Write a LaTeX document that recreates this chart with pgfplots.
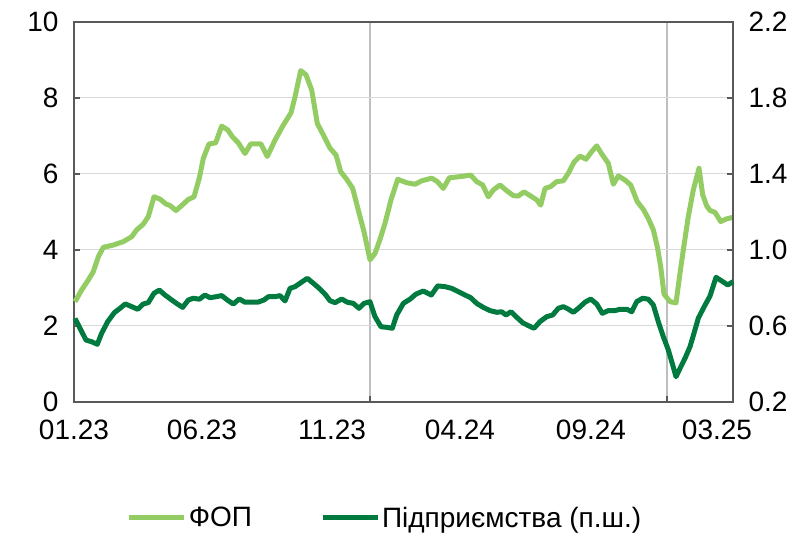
\documentclass[border=0pt]{standalone}
\usepackage{pgfplots}
\pgfplotsset{compat=1.18}
\usepackage{fontspec}
\setmainfont{Liberation Sans}
\definecolor{lightg}{RGB}{146,204,98}
\definecolor{darkg}{RGB}{0,122,62}
\definecolor{axisgray}{RGB}{89,89,89}
\definecolor{gridgray}{RGB}{217,217,217}
\definecolor{vgray}{RGB}{191,191,191}
\newcommand{\bigfont}{\fontsize{28}{32}\selectfont}
\begin{document}
\begin{tikzpicture}
\begin{axis}[
  at={(0pt,0pt)}, anchor=south west,
  scale only axis, width=659pt, height=380pt,
  xmin=0, xmax=659, ymin=0, ymax=10,
  axis line style={draw=axisgray, line width=1.6pt},
  /pgf/number format/assume math mode=true,
  tick label style={font=\bigfont, black},
  tick align=inside,
  major tick length=6pt,
  ytick={0,2,4,6,8,10}, ytick pos=left,
  ymajorgrids,
  major y grid style={draw=gridgray, line width=1pt},
  y tick style={draw=axisgray, line width=1.6pt},
  xtick={296,593}, xticklabels={}, xtick pos=bottom,
  xmajorgrids,
  major x grid style={draw=vgray, line width=1.2pt},
  x tick style={draw=axisgray, line width=1.6pt},
  extra x ticks={0,128,258,386,517,643},
  extra x tick labels={01.23,06.23,11.23,04.24,09.24,03.25},
  extra x tick style={major tick length=0pt, xmajorgrids=false, x tick style={draw=none}},
  xticklabel style={yshift=-14pt},
  yticklabel style={xshift=-12pt},
  legend style={at={(0.472,-0.305)}, anchor=center, draw=none, fill=none,
    font=\bigfont, legend columns=2,
    /tikz/every even column/.append style={column sep=66pt}},
  legend image code/.code={\draw[#1] (0pt,0pt) -- (55pt,0pt);},
  clip=false,
]
\addplot[lightg, line width=5pt, line join=round] table {
x y
1 2.64
7.7 2.95
14.3 3.21
19.3 3.43
24.3 3.82
29.3 4.07
39.3 4.13
49.3 4.22
57.7 4.35
62.7 4.53
69.3 4.68
74.3 4.88
80 5.40
86 5.34
92 5.21
96 5.17
102 5.04
107.7 5.17
114.3 5.33
120 5.40
125.3 5.89
129.3 6.41
135 6.79
141.7 6.82
147.7 7.26
153.7 7.16
158.7 6.97
164.3 6.82
171 6.54
176.7 6.79
187 6.79
193.3 6.46
201 6.89
208.7 7.26
217 7.61
221 8.03
226.7 8.72
232 8.61
237.7 8.21
243.3 7.33
249.3 7.03
256 6.68
262 6.50
266.7 6.06
272.7 5.86
278.7 5.62
284.3 5.05
290 4.48
296 3.74
301 3.91
306 4.28
311 4.70
317 5.32
323.7 5.86
332.7 5.77
341 5.73
347.7 5.82
357.7 5.89
363.3 5.80
369.3 5.62
375.3 5.90
386 5.93
396.7 5.97
402.7 5.80
408.7 5.71
414.3 5.40
419.3 5.58
426 5.71
432.7 5.56
439.3 5.43
444.3 5.42
450 5.53
456.7 5.42
462.7 5.32
466.7 5.18
471 5.62
476.7 5.67
482.7 5.80
489.3 5.82
494.3 6.02
500 6.31
506 6.47
512 6.39
517.7 6.59
522.7 6.74
527.7 6.53
534.3 6.28
539.3 5.73
544.3 5.95
551 5.84
556.7 5.71
563.3 5.27
569.3 5.07
574.3 4.83
579.3 4.53
583.3 4.09
586.7 3.56
590 2.84
596 2.64
602 2.61
606 3.39
609.3 4.00
614.3 4.88
619.3 5.58
625 6.15
628.7 5.45
632.7 5.16
636 5.04
641 4.99
646.7 4.75
652.7 4.82
659 4.86
};
\addlegendentry{ФОП}
\addlegendimage{darkg, line width=5pt}
\addlegendentry{Підприємства (п.ш.)}
\end{axis}
\begin{axis}[
  at={(0pt,0pt)}, anchor=south west,
  scale only axis, width=659pt, height=380pt,
  xmin=0, xmax=659, ymin=0.2, ymax=2.2,
  axis x line=none,
  axis y line*=right,
  axis line style={draw=axisgray, line width=1.6pt},
  /pgf/number format/assume math mode=true,
  /pgf/number format/fixed,
  /pgf/number format/fixed zerofill,
  /pgf/number format/precision=1,
  tick label style={font=\bigfont, black},
  tick align=inside,
  major tick length=6pt,
  ytick={0.2,0.6,1.0,1.4,1.8,2.2},
  y tick style={draw=axisgray, line width=1.6pt},
  yticklabel style={xshift=12pt},
  clip=false,
]
\addplot[darkg, line width=5pt, line join=round] table {
x y
1 0.640
6 0.588
12 0.526
17.7 0.517
23.3 0.504
27.7 0.562
33.7 0.623
40.3 0.670
46 0.693
51.3 0.716
57.7 0.702
63.7 0.688
69.3 0.716
74.3 0.723
80 0.772
85.3 0.789
91 0.763
97.7 0.737
103.3 0.716
108.7 0.698
114.3 0.737
119.3 0.746
125.3 0.741
131 0.763
136 0.749
142 0.754
147.7 0.760
153.3 0.737
159.3 0.716
165.3 0.742
171 0.725
177.7 0.725
184.3 0.726
190 0.737
194.3 0.754
201 0.754
206 0.760
211 0.732
216 0.798
221 0.807
226 0.825
233.3 0.851
239.3 0.825
245.3 0.798
251 0.768
256 0.733
261 0.723
267.7 0.742
273.3 0.725
279.3 0.719
285 0.693
290 0.719
296 0.728
301 0.649
307 0.596
312.7 0.593
318.3 0.588
322.7 0.658
329.3 0.719
336 0.741
342 0.768
349.3 0.784
357.3 0.763
363.7 0.811
371 0.807
377.7 0.798
384.3 0.781
391 0.763
396.7 0.749
402.7 0.719
409.3 0.698
416 0.681
422.7 0.672
427.7 0.675
432 0.658
437 0.675
442.7 0.646
448.7 0.617
454.3 0.602
460 0.588
466 0.623
472.7 0.649
478.7 0.658
484.3 0.693
489.3 0.702
494.3 0.689
499.3 0.672
504.3 0.693
511 0.725
516.7 0.742
522.7 0.716
528.3 0.667
534.3 0.681
541 0.681
546 0.688
552.7 0.688
557.7 0.675
562.7 0.728
568.7 0.746
574.3 0.741
579.3 0.711
584.3 0.623
589.3 0.544
594.3 0.474
598.7 0.395
602 0.333
606 0.377
611 0.430
616 0.491
620 0.562
624.3 0.641
629.3 0.693
636 0.758
642 0.856
647.7 0.837
653.7 0.816
659 0.833
};
\end{axis}
\path (-74pt,-132pt) rectangle (728pt,402pt);
\end{tikzpicture}
\end{document}
